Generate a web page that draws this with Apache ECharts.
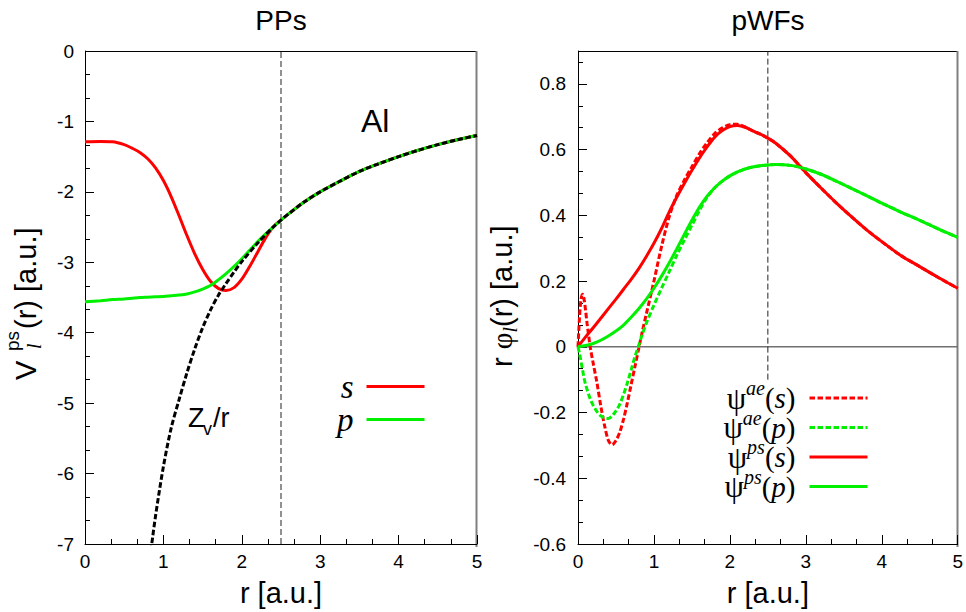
<!DOCTYPE html>
<html>
<head>
<meta charset="utf-8">
<script src="https://cdn.jsdelivr.net/npm/echarts@6/dist/echarts.min.js"></script>
<style>
  html, body { margin: 0; padding: 0; background: #fff; }
  #chart { width: 966px; height: 612px; }
</style>
</head>
<body>
<div id="chart"></div>
<script>
// cut-off radius (dashed vertical line in both panels)
const rc = 2.5
const rcLeftV = [-7, 0]
const rcRightV = [-0.1, 0.9]
const zeroR = [0, 5]
const zeroV = [0, 0]

// left panel: pseudopotentials V_l(r)
const ppR = [0, 0.2, 0.35, 0.5, 0.6, 0.7, 0.8, 0.9, 1.0, 1.1, 1.2, 1.3, 1.4, 1.5, 1.6, 1.7, 1.8, 1.9, 2.0, 2.1, 2.2, 2.3, 2.4, 2.5,
  2.6, 2.8, 3.0, 3.25, 3.5, 3.75, 4.0, 4.25, 4.5, 4.75, 5.0]
const ppS = [-1.29, -1.285, -1.29, -1.33, -1.38, -1.44, -1.53, -1.66, -1.84, -2.07, -2.34, -2.62, -2.88, -3.1, -3.27, -3.37, -3.4, -3.36, -3.24, -3.06, -2.86, -2.66, -2.5, -2.4,
  -2.31, -2.14, -2.0, -1.85, -1.71, -1.6, -1.5, -1.41, -1.33, -1.26, -1.2]
const ppP = [-3.56, -3.545, -3.53, -3.52, -3.51, -3.5, -3.495, -3.49, -3.485, -3.475, -3.465, -3.45, -3.42, -3.38, -3.33, -3.25, -3.16, -3.06, -2.95, -2.83, -2.71, -2.6, -2.5, -2.4,
  -2.31, -2.14, -2.0, -1.85, -1.71, -1.6, -1.5, -1.41, -1.33, -1.26, -1.2]
const zvR = [0.84, 0.9, 1.0, 1.1, 1.2, 1.3, 1.4, 1.5, 1.6, 1.7, 1.8, 1.9, 2.0, 2.2, 2.4, 2.5,
  2.6, 2.8, 3.0, 3.25, 3.5, 3.75, 4.0, 4.25, 4.5, 4.75, 5.0]
const zvV = [-7.1, -6.6, -5.9, -5.35, -4.95, -4.57, -4.23, -3.93, -3.68, -3.47, -3.3, -3.14, -2.99, -2.73, -2.5, -2.4,
  -2.31, -2.14, -2.0, -1.85, -1.71, -1.6, -1.5, -1.41, -1.33, -1.26, -1.2]

// right panel: pseudo wavefunctions r*phi_l(r)
const wfR = [0, 0.1, 0.2, 0.3, 0.4, 0.5, 0.6, 0.7, 0.8, 0.9, 1.0, 1.1, 1.2, 1.3, 1.4, 1.5, 1.6, 1.7, 1.8, 1.9, 2.0, 2.1, 2.2, 2.3, 2.4, 2.5,
  2.6, 2.8, 3.0, 3.2, 3.4, 3.6, 3.8, 4.0, 4.25, 4.5, 4.75, 5.0]
const wfPsS = [0, 0.03, 0.058, 0.087, 0.116, 0.145, 0.175, 0.205, 0.238, 0.275, 0.315, 0.36, 0.41, 0.455, 0.497, 0.537, 0.575, 0.608, 0.638, 0.658, 0.67, 0.673, 0.668, 0.657, 0.647, 0.635,
  0.62, 0.58, 0.53, 0.483, 0.438, 0.396, 0.356, 0.32, 0.278, 0.244, 0.21, 0.178]
const wfPsP = [0, 0.004, 0.01, 0.02, 0.033, 0.048, 0.066, 0.09, 0.116, 0.145, 0.178, 0.215, 0.255, 0.298, 0.342, 0.385, 0.425, 0.458, 0.484, 0.504, 0.52, 0.532, 0.541, 0.547, 0.551, 0.553,
  0.555, 0.552, 0.541, 0.525, 0.504, 0.482, 0.46, 0.437, 0.41, 0.385, 0.358, 0.333]
const aeR = [0, 0.02, 0.04, 0.06, 0.08, 0.1, 0.12, 0.14, 0.16, 0.2, 0.25, 0.3, 0.35, 0.4, 0.45, 0.5, 0.55, 0.6, 0.65, 0.7, 0.75, 0.8, 0.85, 0.9,
  1.0, 1.1, 1.2, 1.3, 1.4, 1.5, 1.6, 1.7, 1.8, 1.9, 2.0, 2.1, 2.2, 2.3, 2.4, 2.5,
  2.6, 2.8, 3.0, 3.2, 3.4, 3.6, 3.8, 4.0, 4.25, 4.5, 4.75, 5.0]
const wfAeS = [0, 0.09, 0.145, 0.16, 0.145, 0.11, 0.07, 0.035, 0.0, -0.05, -0.11, -0.18, -0.24, -0.285, -0.298, -0.285, -0.26, -0.22, -0.17, -0.115, -0.06, -0.005, 0.05, 0.1,
  0.2, 0.305, 0.395, 0.46, 0.507, 0.548, 0.588, 0.621, 0.649, 0.666, 0.676, 0.677, 0.669, 0.657, 0.647, 0.635,
  0.62, 0.58, 0.53, 0.483, 0.438, 0.396, 0.356, 0.32, 0.278, 0.244, 0.21, 0.178]
const wfAeP = [0, -0.02, -0.045, -0.07, -0.095, -0.115, -0.13, -0.145, -0.158, -0.178, -0.197, -0.21, -0.217, -0.218, -0.21, -0.195, -0.175, -0.145, -0.11, -0.07, -0.03, 0.005, 0.04, 0.072,
  0.127, 0.178, 0.228, 0.278, 0.325, 0.37, 0.415, 0.455, 0.484, 0.504, 0.52, 0.532, 0.541, 0.547, 0.551, 0.553,
  0.555, 0.552, 0.541, 0.525, 0.504, 0.482, 0.46, 0.437, 0.41, 0.385, 0.358, 0.333]

const SANS = '"Liberation Sans", Arial, sans-serif'
const SERIF = '"Liberation Serif", "Times New Roman", serif'
const RED = '#ff0000'
const GREEN = '#00f000'
const NONE = 'rgba(0,0,0,0)'

// panel rectangles (pixels)
const PANELS = [
  { left: 85, top: 51, width: 392, height: 496 },
  { left: 578, top: 51, width: 380, height: 496 }
]

function pairs (xs, ys) {
  return xs.map((x, i) => [x, ys[i]])
}

// split-line colours: only the last line (top / right edge of the frame) is drawn
function edgeOnly (count, color) {
  var c = []
  for (var i = 0; i < count - 1; i++) c.push(NONE)
  c.push(color)
  return c
}

var measureCtx = document.createElement('canvas').getContext('2d')
function textWidth (t, font) {
  measureCtx.font = font
  return measureCtx.measureText(t).width
}

// rotated axis title made of pieces (sub/superscripts), baseline at screen x = bx
function verticalTitle (bx, by, pieces) {
  var cursor = 0
  var children = []
  pieces.forEach(p => {
    var font = (p.italic ? 'italic ' : '') + p.size + 'px ' + (p.serif ? SERIF : SANS)
    var x = p.x !== undefined ? p.x : cursor
    children.push({
      type: 'text',
      x: x,
      y: (p.dy || 0) - 0.35 * p.size,
      style: { text: p.t, font: font, fill: '#000', textAlign: 'left', textVerticalAlign: 'middle', align: 'left', verticalAlign: 'middle' }
    })
    cursor = x + textWidth(p.t, font)
  })
  return { type: 'group', x: bx, y: by, rotation: Math.PI / 2, children: children }
}

function label (x, y, t, size, font, align) {
  return {
    type: 'text',
    x: x,
    y: y,
    style: { text: t, font: size + 'px ' + font, fill: '#000', textAlign: align || 'left', textVerticalAlign: 'middle', align: align || 'left', verticalAlign: 'middle' }
  }
}

// top (black) and right (gray) edges of a panel frame
function frameEdges (p) {
  var r = p.left + p.width
  var b = p.top + p.height
  return [
    { type: 'polyline', shape: { points: [[p.left, p.top + 0.5], [r, p.top + 0.5]] }, style: { stroke: '#000', fill: null, lineWidth: 1 } },
    { type: 'polyline', shape: { points: [[r - 0.5, p.top], [r - 0.5, b]] }, style: { stroke: '#808080', fill: null, lineWidth: 2 } }
  ]
}

function xAxisMain (gridIndex) {
  return {
    gridIndex: gridIndex,
    type: 'value',
    position: 'bottom',
    min: 0,
    max: 5,
    interval: 1,
    axisLine: { onZero: false, lineStyle: { color: '#000', width: 1 } },
    axisTick: { inside: true, length: 9, lineStyle: { color: '#000' } },
    minorTick: { show: true, splitNumber: 3, length: 5, lineStyle: { color: '#000' } },
    // ticks 0..5 -> the line at r = 5 is the gray right edge
    splitLine: { show: true, showMinLine: false, showMaxLine: true, lineStyle: { color: edgeOnly(6, '#808080'), width: 2 } },
    axisLabel: { color: '#000', fontSize: 19, fontFamily: SANS, margin: 8 },
    name: 'r [a.u.]',
    nameLocation: 'middle',
    nameGap: 34,
    nameTextStyle: { color: '#000', fontSize: 29, fontFamily: SANS }
  }
}

function yAxisMain (gridIndex, min, max, interval, tickCount, margin, showMax, formatter) {
  return {
    gridIndex: gridIndex,
    type: 'value',
    position: 'left',
    min: min,
    max: max,
    interval: interval,
    axisLine: { show: true, onZero: false, lineStyle: { color: '#000', width: 1 } },
    axisTick: { show: true, inside: true, length: 9, lineStyle: { color: '#000' } },
    minorTick: { show: true, splitNumber: 3, length: 5, lineStyle: { color: '#000' } },
    // last split line = black top edge of the frame
    splitLine: { show: true, showMinLine: false, showMaxLine: true, lineStyle: { color: edgeOnly(tickCount, '#000'), width: 1 } },
    axisLabel: { color: '#000', fontSize: 19, fontFamily: SANS, margin: margin, showMaxLabel: showMax, formatter: formatter }
  }
}

function curve (name, xi, yi, data, color, dashed) {
  return {
    name: name,
    type: 'line',
    xAxisIndex: xi,
    yAxisIndex: yi,
    data: data,
    symbol: 'none',
    smooth: 0.3,
    silent: true,
    lineStyle: { color: color, width: 3, type: dashed ? [5.5, 2.5] : 'solid' },
    itemStyle: { color: color }
  }
}

function guide (xi, yi, data, color, width, dash) {
  return {
    type: 'line',
    xAxisIndex: xi,
    yAxisIndex: yi,
    data: data,
    symbol: 'none',
    silent: true,
    lineStyle: { color: color, width: width, type: dash || 'solid' }
  }
}

var chart = echarts.init(document.getElementById('chart'), null, { renderer: 'svg' })

var wfNames = {
  'ae-s': ['ae', 's'],
  'ae-p': ['ae', 'p'],
  'ps-s': ['ps', 's'],
  'ps-p': ['ps', 'p']
}

var option = {
  animation: false,
  backgroundColor: '#fff',
  grid: PANELS.map(p => Object.assign({}, p)),
  xAxis: [
    xAxisMain(0),
    xAxisMain(1)
  ],
  yAxis: [
    // -7 .. 0 : 8 ticks
    yAxisMain(0, -7, 0, 1, 8, 11, true, v => String(v)),
    // -0.6 .. 0.8 by 0.2 plus the axis end 0.9 : 9 ticks
    yAxisMain(1, -0.6, 0.9, 0.2, 9, 12, false, v => Math.abs(v) < 1e-9 ? '0' : v.toFixed(1))
  ],
  legend: [
    {
      data: ['s', 'p'],
      orient: 'vertical',
      align: 'right',
      right: 540,
      top: 370,
      padding: 0,
      itemGap: 0,
      itemWidth: 58,
      itemHeight: 14,
      selectedMode: false,
      itemStyle: { opacity: 0, borderWidth: 0 },
      lineStyle: { width: 3 },
      formatter: name => '{i|' + name + '}',
      textStyle: {
        rich: {
          i: { fontFamily: SERIF, fontStyle: 'italic', fontSize: 33, lineHeight: 34, color: '#000', padding: [0, 8, 0, 0] }
        }
      }
    },
    {
      data: ['ae-s', 'ae-p', 'ps-s', 'ps-p'],
      orient: 'vertical',
      align: 'right',
      right: 97,
      top: 378,
      padding: 0,
      itemGap: -6,
      itemWidth: 58,
      itemHeight: 14,
      selectedMode: false,
      itemStyle: { opacity: 0, borderWidth: 0 },
      lineStyle: { width: 3 },
      formatter: name => {
        var n = wfNames[name]
        return '{g|ψ}{sup|' + n[0] + '}{t|(}{i|' + n[1] + '}{e|)}'
      },
      textStyle: {
        rich: {
          g: { fontFamily: SERIF, fontSize: 31, lineHeight: 40, color: '#000' },
          sup: { fontFamily: SERIF, fontStyle: 'italic', fontSize: 20, lineHeight: 20, verticalAlign: 'top', color: '#000' },
          t: { fontFamily: SERIF, fontSize: 29, lineHeight: 40, color: '#000' },
          i: { fontFamily: SERIF, fontStyle: 'italic', fontSize: 29, lineHeight: 40, color: '#000' },
          e: { fontFamily: SERIF, fontSize: 29, lineHeight: 40, color: '#000', padding: [0, 9, 0, 0] }
        }
      }
    }
  ],
  graphic: [
    ...frameEdges(PANELS[0]),
    ...frameEdges(PANELS[1]),
    label(281, 20, 'PPs', 28, SANS, 'center'),
    label(768, 20, 'pWFs', 28, SANS, 'center'),
    label(361, 121, 'Al', 32, SANS),
    label(188, 418, 'Z', 27, SANS),
    label(203, 429, 'v', 18, SANS),
    label(213, 418, '/r', 27, SANS),
    verticalTitle(36, 380, [
      { t: 'V', size: 29 },
      { t: 'ps', size: 19, dy: -17, x: 29 },
      { t: 'l', size: 20, serif: true, italic: true, dy: 5, x: 31 },
      { t: '(r) [a.u.]', size: 29, x: 51 }
    ]),
    verticalTitle(512, 367, [
      { t: 'r ', size: 29 },
      { t: 'φ', size: 29, serif: true },
      { t: 'l', size: 20, serif: true, italic: true, dy: 5 },
      { t: '(r) [a.u.]', size: 29 }
    ])
  ],
  series: [
    guide(0, 0, pairs([rc, rc], rcLeftV), '#222', 1, [6, 3]),
    curve('s', 0, 0, pairs(ppR, ppS), RED, false),
    curve('p', 0, 0, pairs(ppR, ppP), GREEN, false),
    curve('zv', 0, 0, pairs(zvR, zvV), '#000', true),

    guide(1, 1, pairs(zeroR, zeroV), '#707070', 1.5),
    guide(1, 1, pairs([rc, rc], rcRightV), '#222', 1, [6, 3]),
    curve('ae-s', 1, 1, pairs(aeR, wfAeS), RED, true),
    curve('ae-p', 1, 1, pairs(aeR, wfAeP), GREEN, true),
    curve('ps-s', 1, 1, pairs(wfR, wfPsS), RED, false),
    curve('ps-p', 1, 1, pairs(wfR, wfPsP), GREEN, false)
  ]
}

chart.setOption(option)
</script>
</body>
</html>
